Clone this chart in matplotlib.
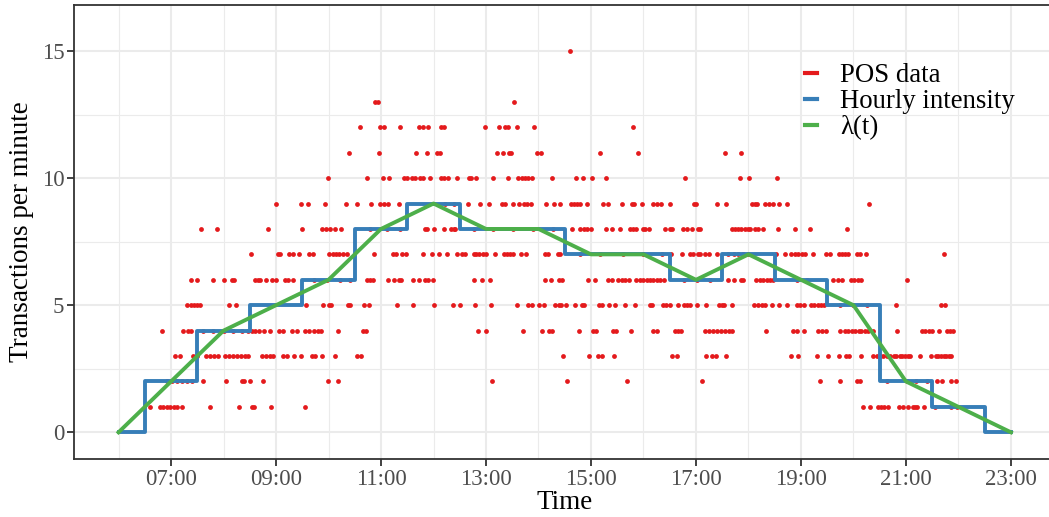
import matplotlib
matplotlib.use("Agg")
import matplotlib.pyplot as plt
from matplotlib.lines import Line2D
from matplotlib.ticker import MultipleLocator, FuncFormatter
import numpy as np

# ─── Data ────────────────────────────────────────────────────────────────────

# POS observations: minute of day, grouped by transactions per minute
pos_c1 = [396, 407, 411, 415, 419, 423, 427, 432, 465, 498, 512, 515, 534, 573,
          1211, 1219, 1228, 1231, 1235, 1240, 1252, 1257, 1262, 1268, 1270, 1273,
          1281, 1293, 1312, 1318]
pos_c2 = [415, 421, 427, 432, 438, 444, 457, 483, 501, 503, 510, 525, 599, 611,
          787, 873, 941, 1027, 1162, 1185, 1204, 1207, 1238, 1261, 1272, 1284,
          1295, 1301, 1312, 1317]
pos_c3 = [425, 430, 445, 450, 460, 465, 469, 474, 482, 486, 491, 495, 500, 505,
          508, 524, 528, 533, 537, 548, 552, 560, 568, 581, 585, 593, 607, 632,
          637, 868, 898, 908, 913, 926, 993, 998, 1032, 1038, 1043, 1054, 1129,
          1137, 1158, 1171, 1183, 1191, 1195, 1209, 1222, 1227, 1230, 1234, 1238,
          1242, 1246, 1249, 1253, 1256, 1259, 1262, 1265, 1276, 1289, 1294, 1297,
          1300, 1303, 1306, 1309, 1312]
pos_c4 = [410, 434, 439, 443, 457, 468, 480, 491, 501, 508, 512, 516, 520, 526,
          533, 543, 548, 558, 564, 573, 578, 583, 588, 591, 611, 639, 643, 771,
          780, 822, 844, 852, 856, 886, 902, 906, 925, 929, 946, 971, 975, 996,
          1000, 1003, 1030, 1035, 1040, 1044, 1049, 1053, 1058, 1061, 1100, 1131,
          1136, 1143, 1160, 1164, 1169, 1185, 1190, 1194, 1198, 1202, 1206, 1209,
          1213, 1217, 1222, 1250, 1278, 1282, 1286, 1290, 1298, 1307, 1310, 1314]
pos_c5 = [438, 443, 446, 450, 453, 486, 494, 574, 594, 600, 603, 622, 625, 640,
          646, 678, 696, 721, 742, 750, 767, 786, 816, 828, 833, 841, 846, 859,
          863, 866, 872, 882, 890, 892, 909, 913, 921, 928, 939, 950, 967, 970,
          982, 986, 990, 1000, 1006, 1010, 1013, 1021, 1032, 1046, 1050, 1052,
          1061, 1086, 1091, 1095, 1099, 1107, 1115, 1124, 1135, 1139, 1143, 1151,
          1155, 1159, 1163, 1166, 1185, 1200, 1215, 1249, 1300, 1305]
pos_c6 = [443, 450, 468, 481, 490, 492, 516, 519, 522, 528, 535, 540, 550, 554,
          559, 583, 598, 613, 625, 644, 647, 651, 668, 675, 680, 683, 697, 703,
          710, 714, 719, 766, 775, 785, 847, 854, 863, 867, 897, 905, 920, 924,
          931, 935, 939, 943, 952, 956, 960, 964, 967, 971, 975, 979, 983, 1006,
          1021, 1036, 1057, 1063, 1072, 1074, 1089, 1093, 1097, 1101, 1105, 1108,
          1135, 1147, 1177, 1182, 1187, 1197, 1201, 1205, 1209, 1261]
pos_c7 = [511, 542, 545, 555, 559, 566, 578, 582, 601, 605, 609, 612, 616, 621,
          652, 674, 677, 684, 689, 708, 718, 726, 735, 747, 752, 756, 766, 769,
          772, 776, 780, 790, 800, 804, 807, 811, 820, 826, 848, 851, 862, 865,
          887, 910, 937, 960, 981, 992, 1004, 1013, 1017, 1022, 1025, 1030, 1035,
          1044, 1057, 1063, 1068, 1074, 1080, 1112, 1122, 1129, 1133, 1137, 1141,
          1145, 1154, 1169, 1173, 1183, 1187, 1190, 1194, 1204, 1207, 1214, 1304]
pos_c8 = [454, 473, 531, 570, 592, 597, 602, 607, 614, 647, 667, 682, 710, 712,
          720, 732, 740, 743, 745, 766, 788, 811, 834, 857, 878, 888, 892, 896,
          900, 917, 924, 933, 945, 948, 951, 959, 962, 966, 985, 990, 993, 1005,
          1010, 1015, 1022, 1025, 1061, 1065, 1068, 1072, 1076, 1079, 1082, 1087,
          1091, 1097, 1114, 1133, 1150, 1193]
pos_c9 = [540, 569, 576, 596, 620, 632, 648, 659, 663, 668, 680, 733, 743, 759,
          773, 783, 798, 802, 811, 818, 823, 827, 831, 849, 858, 865, 877, 881,
          884, 888, 895, 914, 919, 935, 947, 949, 958, 971, 976, 980, 990, 1018,
          1020, 1044, 1054, 1084, 1087, 1090, 1099, 1103, 1108, 1115, 1124, 1218]
pos_c10 = [599, 644, 662, 669, 686, 690, 695, 699, 704, 708, 716, 728, 732, 737,
           747, 760, 763, 769, 788, 805, 817, 821, 825, 828, 833, 855, 883, 891,
           901, 917, 1008, 1070, 1081, 1113]
pos_c11 = [623, 658, 700, 713, 724, 727, 793, 799, 806, 809, 838, 843, 910, 954,
           1053, 1071]
pos_c12 = [636, 659, 663, 682, 703, 708, 714, 729, 732, 779, 795, 802, 805, 815,
           835, 948]
pos_c13 = [653, 656, 812]
pos_c15 = [876]

# hourly intensity: step edges (hours) and rate per interval
hour_edges = [6, 6.5, 7.5, 8.5, 9.5, 10.5, 11.5, 12.5, 13.5, 14.5, 15.5, 16.5,
              17.5, 18.5, 19.5, 20.5, 21.5, 22.5, 23]
hour_rate = [0, 2, 4, 5, 6, 8, 9, 8, 8, 7, 7, 6, 7, 6, 5, 2, 1, 0]

# lambda(t) knots
lambda_hours = [6, 7, 8, 9, 10, 11, 12, 13, 14, 15, 16, 17, 18, 19, 20, 21, 22, 23]
lambda_vals = [0, 2, 4, 5, 6, 8, 9, 8, 8, 7, 7, 6, 7, 6, 5, 2, 1, 0]

RED, BLUE, GREEN = "#E41A1C", "#377EB8", "#4DAF4A"

# ─── Plot ────────────────────────────────────────────────────────────────────

plt.rcParams["font.family"] = ["Liberation Serif", "DejaVu Serif"]

levels = [(1, pos_c1), (2, pos_c2), (3, pos_c3), (4, pos_c4), (5, pos_c5),
          (6, pos_c6), (7, pos_c7), (8, pos_c8), (9, pos_c9), (10, pos_c10),
          (11, pos_c11), (12, pos_c12), (13, pos_c13), (15, pos_c15)]
pos_t = np.concatenate([np.array(m) / 60.0 for _, m in levels])
pos_y = np.concatenate([np.full(len(m), c) for c, m in levels])

W, H = 1049, 517
fig = plt.figure(figsize=(W / 100, H / 100), dpi=100)
# panel runs past the right edge of the image, as in the reference
ax = fig.add_axes([74 / W, 1 - 459 / H, (1055.6 - 74) / W, (459 - 5) / H])

ax.scatter(pos_t, pos_y, s=12, color=RED, linewidths=0, zorder=3)
ax.plot(hour_edges, hour_rate + [hour_rate[-1]], drawstyle="steps-post",
        color=BLUE, lw=2.8, zorder=4)
ax.plot(lambda_hours, lambda_vals, color=GREEN, lw=2.8, zorder=5)

ax.set_xlim(6 - 0.848, 23.85)
ax.set_ylim(-1.05, 16.81)

ax.xaxis.set_major_locator(MultipleLocator(2, offset=1))
ax.xaxis.set_minor_locator(MultipleLocator(2))
ax.xaxis.set_major_formatter(FuncFormatter(lambda v, p: f"{int(round(v)):02d}:00"))
ax.yaxis.set_major_locator(MultipleLocator(5))
ax.yaxis.set_minor_locator(MultipleLocator(2.5))

ax.grid(which="major", color="#EBEBEB", lw=1.5, zorder=0)
ax.grid(which="minor", color="#EBEBEB", lw=0.8, zorder=0)
ax.set_axisbelow(True)

for s in ax.spines.values():
    s.set_color("#333333")
    s.set_linewidth(1.3)

ax.tick_params(which="major", length=5, width=1.3, color="#333333",
               labelcolor="#4D4D4D", labelsize=16.5, pad=2)
ax.tick_params(which="minor", length=0)

fig.text(565 / W, 1 - 509 / H, "Time", ha="center", va="baseline", fontsize=19.5)
fig.text(22 / W, 1 - 232 / H, "Transactions per minute", rotation=90,
         ha="center", va="center", fontsize=19.5)

handles = [Line2D([], [], color=c, lw=3) for c in (RED, BLUE, GREEN)]
ax.legend(handles, ["POS data", "Hourly intensity", "λ(t)"],
          loc="upper left", bbox_to_anchor=(805 / W, 1 - 63 / H),
          bbox_transform=fig.transFigure, frameon=False, fontsize=19.3,
          handlelength=0.45, handletextpad=0.85, labelspacing=0.04,
          borderpad=0, borderaxespad=0)

fig.savefig("out.png", dpi=100)
